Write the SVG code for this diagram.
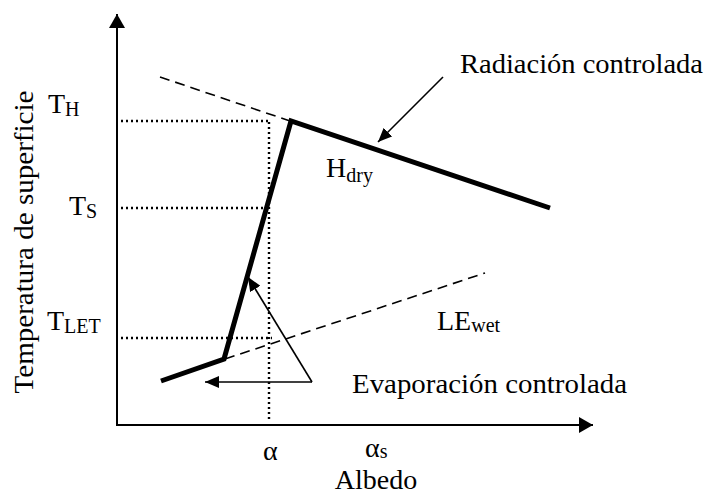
<svg xmlns="http://www.w3.org/2000/svg" width="709" height="495" viewBox="0 0 709 495">
<defs>
<style>
text{font-family:"Liberation Serif","Times New Roman",serif;fill:#000}
.lbl{font-size:28px}
.sub{font-size:20px}
.axis{stroke:#000;stroke-width:2;fill:none}
.thick{stroke:#000;stroke-width:5;fill:none;stroke-linecap:butt;stroke-linejoin:miter}
.dash{stroke:#000;stroke-width:1.6;fill:none;stroke-dasharray:10 6}
.dot{stroke:#000;stroke-width:2.4;fill:none;stroke-dasharray:2 3}
.thin{stroke:#000;stroke-width:1.6;fill:none}
</style>
<marker id="ahs" viewBox="0 0 14 12" refX="14" refY="6" markerWidth="14" markerHeight="12" markerUnits="userSpaceOnUse" orient="auto">
<path d="M0,0 L14,6 L0,12 z" fill="#000"/>
</marker>
<marker id="ahb" viewBox="0 0 14 16" refX="14" refY="8" markerWidth="14" markerHeight="16" markerUnits="userSpaceOnUse" orient="auto">
<path d="M0,0 L14,8 L0,16 z" fill="#000"/>
</marker>
</defs>
<g id="axes">
<path class="axis" d="M117,425 L117,14" marker-end="url(#ahb)"/>
<path class="axis" d="M116,425 L593,425" marker-end="url(#ahb)"/>
</g>
<g id="guides">
<path class="dot" d="M121,121 H269"/>
<path class="dot" d="M121,208 H266"/>
<path class="dot" d="M121,338 H272"/>
<path class="dot" d="M269,122 V421"/>
</g>
<g id="connectors">
<path class="dash" d="M160,77 L290,121"/>
<path class="dash" d="M225,359 L485,273"/>
<path class="thick" d="M550,208 L291,121 L224,359 L161,381"/>
<path class="thin" d="M443,77 L378,142" marker-end="url(#ahs)"/>
<path class="thin" d="M312,382 L248,277" marker-end="url(#ahs)"/>
<path class="thin" d="M312,382 L205,382" marker-end="url(#ahs)"/>
</g>
<g id="labels">
<text class="lbl" transform="translate(33,242) rotate(-90)" text-anchor="middle" textLength="303" lengthAdjust="spacingAndGlyphs">Temperatura de superficie</text>
<text class="lbl" x="48" y="113">T<tspan class="sub" dy="3">H</tspan></text>
<text class="lbl" x="69" y="215">T<tspan class="sub" dy="3">S</tspan></text>
<text class="lbl" x="47" y="330">T<tspan class="sub" dy="3">LET</tspan></text>
<text class="lbl" x="326" y="177">H<tspan class="sub" dy="5">dry</tspan></text>
<text class="lbl" x="437" y="330">LE<tspan class="sub" dy="2">wet</tspan></text>
<text class="lbl" x="460" y="73" textLength="243" lengthAdjust="spacingAndGlyphs">Radiación controlada</text>
<text class="lbl" x="352" y="393" textLength="275" lengthAdjust="spacingAndGlyphs">Evaporación controlada</text>
<text class="lbl" x="263" y="460">α</text>
<text class="lbl" x="365" y="457">α<tspan class="sub" dy="1">s</tspan></text>
<text class="lbl" x="376" y="489" text-anchor="middle">Albedo</text>
</g>
</svg>
